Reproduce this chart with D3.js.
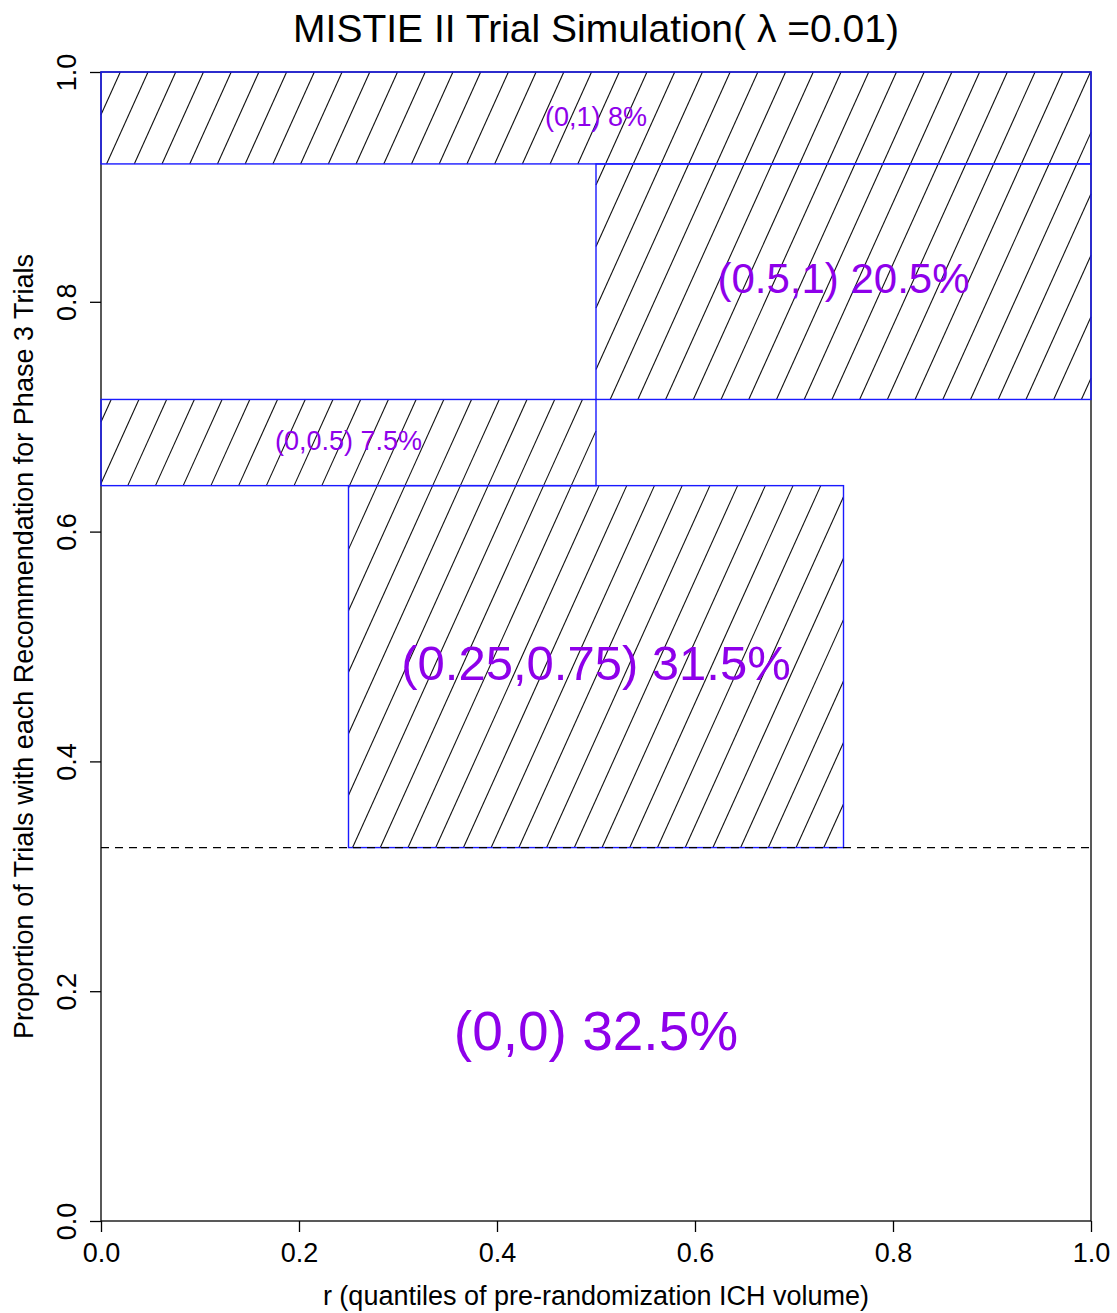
<!DOCTYPE html>
<html>
<head>
<meta charset="utf-8">
<script src="https://cdn.jsdelivr.net/npm/d3@7"></script>
<style>
  html, body { margin: 0; padding: 0; background: #fff; }
  svg { display: block; font-family: "Liberation Sans", Arial, Helvetica, sans-serif; }
</style>
</head>
<body>
<div id="chart"></div>
<script>
// Recommendation outcomes, stacked bottom to top
const recLabels  = ["(0,0)", "(0.25,0.75)", "(0,0.5)", "(0.5,1)", "(0,1)"];
const recPercent = [32.5, 31.5, 7.5, 20.5, 8];
const rLower     = [0, 0.25, 0, 0.5, 0];
const rUpper     = [0, 0.75, 0.5, 1, 1];

const xTicks = [0, 0.2, 0.4, 0.6, 0.8, 1.0];
const yTicks = [0, 0.2, 0.4, 0.6, 0.8, 1.0];

const titleText = "MISTIE II Trial Simulation( \u03bb =0.01)";
const xTitle = "r (quantiles of pre-randomization ICH volume)";
const yTitle = "Proportion of Trials with each Recommendation for Phase 3 Trials";

// label font sizes (px), same order as recLabels
const labelSize = [55, 49, 27, 42, 27];

const W = 1117, H = 1313;
const plot = { left: 101, right: 1091, top: 72, bottom: 1221 };
const purple = "#8E00EA";

const svg = d3.select("#chart").append("svg")
  .attr("width", W).attr("height", H);

const x = d3.scaleLinear().domain([0, 1]).range([plot.left, plot.right]);
const y = d3.scaleLinear().domain([0, 1]).range([plot.bottom, plot.top]);

// stacked intervals
let acc = 0;
const bands = recLabels.map((lab, i) => {
  const y0 = acc;
  acc += recPercent[i] / 100;
  return { label: lab, pct: recPercent[i], lo: rLower[i], hi: rUpper[i], y0, y1: acc, size: labelSize[i] };
});

// frame
svg.append("rect")
  .attr("x", x(0)).attr("y", y(1))
  .attr("width", x(1) - x(0)).attr("height", y(0) - y(1))
  .attr("fill", "none").attr("stroke", "#000").attr("stroke-width", 1.3);

// axes
const xAxis = d3.axisBottom(x).tickValues(xTicks).tickFormat(d3.format(".1f")).tickSize(11).tickPadding(8);
const gx = svg.append("g").attr("transform", `translate(0,${plot.bottom})`).call(xAxis);
gx.select(".domain").remove();
gx.selectAll("line").attr("stroke", "#000").attr("stroke-width", 1.3);
gx.selectAll("text").attr("font-size", 27).attr("fill", "#000").attr("dy", null).attr("y", 41)
  .attr("font-family", "Liberation Sans, Arial, sans-serif");

const yAxis = d3.axisLeft(y).tickValues(yTicks).tickFormat(d3.format(".1f")).tickSize(11);
const gy = svg.append("g").attr("transform", `translate(${plot.left},0)`).call(yAxis);
gy.select(".domain").remove();
gy.selectAll("line").attr("stroke", "#000").attr("stroke-width", 1.3);
gy.selectAll("text")
  .attr("font-size", 27).attr("fill", "#000")
  .attr("font-family", "Liberation Sans, Arial, sans-serif")
  .attr("x", null).attr("dy", null)
  .attr("text-anchor", "middle")
  .attr("transform", "translate(-25,0) rotate(-90)");

// hatching: parallel lines anchored to the data origin, clipped to each band
const hatchStep = 0.028;    // spacing along x, data units
const hatchRun = 0.5235;    // x advance per unit of y
function hatchSegments(b) {
  const segs = [];
  const kMin = Math.floor((b.lo - b.y1 * hatchRun) / hatchStep) - 1;
  const kMax = Math.ceil((b.hi - b.y0 * hatchRun) / hatchStep) + 1;
  for (let k = kMin; k <= kMax; k++) {
    const c = k * hatchStep;
    const ya = Math.max(b.y0, (b.lo - c) / hatchRun);
    const yb = Math.min(b.y1, (b.hi - c) / hatchRun);
    if (yb - ya > 1e-9) segs.push([c + ya * hatchRun, ya, c + yb * hatchRun, yb]);
  }
  return segs;
}

const boxed = bands.filter(b => b.hi > b.lo);
boxed.forEach(b => {
  svg.append("g").selectAll("line").data(hatchSegments(b)).join("line")
    .attr("x1", d => x(d[0])).attr("y1", d => y(d[1]))
    .attr("x2", d => x(d[2])).attr("y2", d => y(d[3]))
    .attr("stroke", "#111").attr("stroke-width", 1.1);
});
svg.append("g").selectAll("rect").data(boxed).join("rect")
  .attr("x", d => x(d.lo)).attr("y", d => y(d.y1))
  .attr("width", d => x(d.hi) - x(d.lo)).attr("height", d => y(d.y0) - y(d.y1))
  .attr("fill", "none").attr("stroke", "#1a1aff").attr("stroke-width", 1.4);

// boundary of the no-treatment share
const base = bands.filter(b => b.hi === b.lo);
svg.append("g").selectAll("line").data(base).join("line")
  .attr("x1", x(0)).attr("x2", x(1))
  .attr("y1", d => y(d.y1)).attr("y2", d => y(d.y1))
  .attr("stroke", "#000").attr("stroke-width", 1.3).attr("stroke-dasharray", "8,6");

// labels
svg.append("g").selectAll("text").data(bands).join("text")
  .attr("x", d => x(d.hi > d.lo ? (d.lo + d.hi) / 2 : 0.5))
  .attr("y", d => y((d.y0 + d.y1) / 2) + 0.28 * d.size)
  .attr("text-anchor", "middle")
  .attr("font-size", d => d.size)
  .attr("fill", purple)
  .text(d => `${d.label} ${d.pct}%`);

// titles
svg.append("text").attr("x", (plot.left + plot.right) / 2).attr("y", 41.5)
  .attr("text-anchor", "middle").attr("font-size", 39).attr("fill", "#000").text(titleText);
svg.append("text").attr("x", (plot.left + plot.right) / 2).attr("y", 1305)
  .attr("text-anchor", "middle").attr("font-size", 27).attr("fill", "#000").text(xTitle);
svg.append("text")
  .attr("transform", `translate(33,${(plot.top + plot.bottom) / 2}) rotate(-90)`)
  .attr("text-anchor", "middle").attr("font-size", 27).attr("fill", "#000").text(yTitle);
</script>
</body>
</html>
